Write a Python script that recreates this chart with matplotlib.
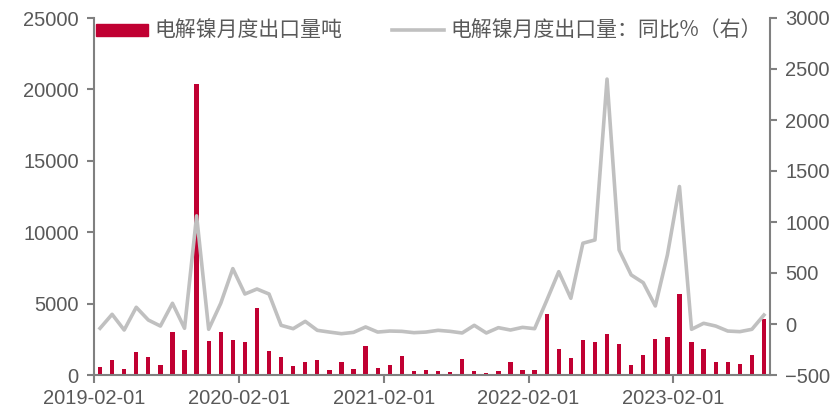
import matplotlib
matplotlib.use("Agg")
import matplotlib.pyplot as plt
from matplotlib.patches import Patch
from matplotlib.lines import Line2D
import numpy as np

plt.rcParams['font.family'] = ['Liberation Sans', 'Noto Sans CJK SC', 'DejaVu Sans']

# 月度数据 2019-02 ... 2023-09
months = [f"{y}-{m:02d}" for y in range(2019, 2024) for m in range(1, 13)][1:57]

export_tons = [580, 1050, 420, 1610, 1240, 700, 3010, 1750, 20350, 2360, 2990, 2450,
               2310, 4690, 1700, 1280, 650, 910, 1050, 330, 880, 420, 2050, 490,
               700, 1330, 280, 330, 260, 230, 1120, 260, 140, 260, 910, 330,
               370, 4270, 1820, 1170, 2430, 2330, 2850, 2170, 680, 1400, 2500, 2660,
               5650, 2310, 1820, 930, 930, 750, 1380, 3920]

export_yoy = [-42, 95, -59, 164, 39, -20, 203, -42, 1060, -52, 203, 543,
              294, 343, 294, -13, -46, 26, -62, -79, -95, -82, -29, -79,
              -69, -72, -85, -79, -62, -72, -88, -13, -88, -36, -59, -33,
              -46, 230, 513, 252, 792, 824, 2401, 726, 481, 405, 177, 677,
              1348, -52, 7, -20, -69, -75, -52, 88]

tick_labels = ["2019-02-01", "2020-02-01", "2021-02-01", "2022-02-01", "2023-02-01"]

bar_color = "#C00032"
line_color = "#C0C0C0"
axis_color = "#808080"
text_color = "#595959"

fig = plt.figure(figsize=(8.36, 4.11), dpi=100)
ax = fig.add_axes([94 / 836, 36 / 411, 676 / 836, 357 / 411])
ax2 = ax.twinx()

x = np.arange(len(months))
ax.bar(x, export_tons, width=0.35, color=bar_color, zorder=2)
ax2.plot(x, export_yoy, color=line_color, lw=2.6, zorder=3)

ax.set_xlim(-0.5, len(months) - 0.5)
ax.set_ylim(0, 25000)
ax.set_yticks(np.arange(0, 25001, 5000))
ax2.set_ylim(-500, 3000)
ax2.set_yticks(np.arange(-500, 3001, 500))

ax.set_xticks([-0.5 + 12 * i for i in range(len(tick_labels))])
ax.set_xticklabels(tick_labels)

for a in (ax, ax2):
    a.spines['top'].set_visible(False)
    for s in ('left', 'right', 'bottom'):
        a.spines[s].set_color(axis_color)
        a.spines[s].set_linewidth(1.5)
    a.tick_params(colors=axis_color, labelcolor=text_color, labelsize=14.5,
                  width=1.5, length=5, direction='out')
ax.spines['right'].set_visible(False)
ax2.spines['left'].set_visible(False)
ax2.spines['bottom'].set_visible(False)
ax.tick_params(axis='x', pad=4, length=6)
ax.tick_params(axis='y', pad=6)
ax2.tick_params(axis='y', pad=6)

handles = [Patch(color=bar_color), Line2D([], [], color=line_color, lw=2.6)]
labels = ["电解镍月度出口量吨", "电解镍月度出口量：同比%（右）"]
leg = ax2.legend(handles, labels, loc='upper left', bbox_to_anchor=(0.0, 1.0),
                 ncol=2, frameon=False, borderaxespad=0, borderpad=0.1,
                 handlelength=2.5, handleheight=0.5, handletextpad=0.3,
                 columnspacing=2.4,
                 prop={'family': ['Noto Sans CJK SC', 'DejaVu Sans'], 'size': 15})
for t in leg.get_texts():
    t.set_color(text_color)

fig.savefig("out.png", dpi=100)
